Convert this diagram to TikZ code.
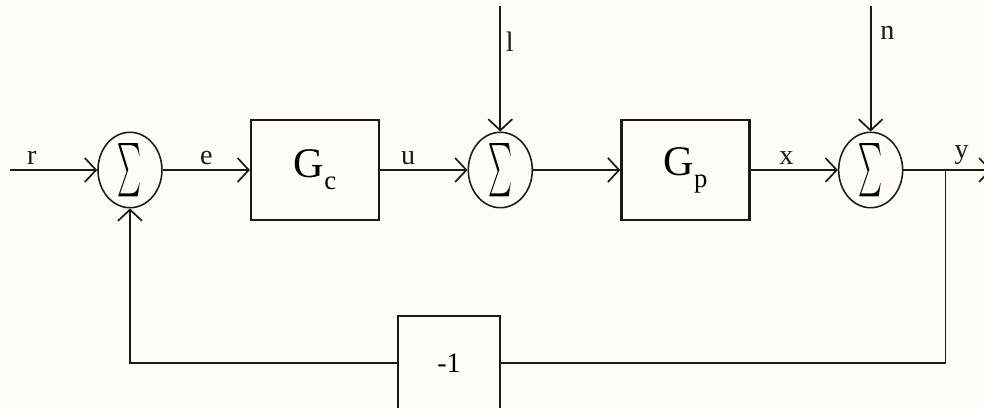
\documentclass[tikz,border=0pt]{standalone}
\usepackage{amsmath}
\usepackage{graphicx}
\usepackage{fontspec}
\setmainfont{Liberation Serif}
\usepackage{tikz}
\usetikzlibrary{shapes.geometric,arrows.meta,positioning}
\definecolor{inkdark}{RGB}{25,25,25}
\definecolor{paper}{RGB}{253,253,246}
\tikzset{
  sumnode/.style={ellipse,draw=inkdark,line width=1.1pt,minimum width=1.6cm,
    minimum height=1.8cm,inner sep=0pt},
  plantbox/.style={rectangle,draw=inkdark,line width=1.7pt,minimum width=3.2cm,
    minimum height=2.5cm,inner sep=0pt},
  gainbox/.style={rectangle,draw=inkdark,line width=1.5pt,minimum width=2.55cm,
    minimum height=2.35cm,inner sep=0pt,font=\fontsize{20}{22}\selectfont},
  sigarrow/.style={-{Straight Barb[length=2.8mm,width=6mm]},line width=1.2pt,color=inkdark},
  sigline/.style={line width=1.2pt,color=inkdark},
  siglabel/.style={font=\fontsize{20}{22}\selectfont,color=inkdark},
}
\newcommand{\sumsym}{\resizebox{0.6cm}{1.0cm}{$\sum$}}
\newcommand{\blocklabel}[2]{{\fontsize{30}{32}\selectfont #1}%
  \raisebox{-8.5pt}{\fontsize{19}{19}\selectfont #2}}

\begin{document}
\begin{tikzpicture}[node distance=2.18cm]

\fill[paper] (0,0) rectangle (24.6,10.175);
\path[use as bounding box] (0,0) rectangle (24.6,10.175);
\clip (0,0) rectangle (24.6,10.175);

%% ── forward path ─────────────────────────────────────────────────────────
\coordinate (rin) at (0.25,5.925);
\node[sumnode, right=of rin] (s1) {\sumsym};
\node[plantbox, right=of s1] (gc) {\blocklabel{G}{c}};
\node[sumnode, right=of gc] (s2) {\sumsym};
\node[plantbox, right=of s2] (gp) {\blocklabel{G}{p}};
\node[sumnode, right=of gp] (s3) {\sumsym};
\coordinate[right=1.05cm of s3] (br);
\coordinate[right=1.15cm of br] (yout);

%% ── disturbance inputs ───────────────────────────────────────────────────
\coordinate[above=3.15cm of s2] (lin);
\coordinate[above=3.15cm of s3] (nin);

%% ── feedback gain ────────────────────────────────────────────────────────
\node[gainbox] (fb) at (11.225,1.1) {\raisebox{-5pt}{-1}};

%% ── Signals ──────────────────────────────────────────────────────────────
\draw[sigarrow] (rin) -- node[siglabel,above,pos=0.25]{r} (s1);
\draw[sigarrow] (s1) -- node[siglabel,above]{e} (gc);
\draw[sigarrow] (gc) -- node[siglabel,above,pos=0.32]{u} (s2);
\draw[sigarrow] (s2) -- (gp);
\draw[sigarrow] (gp) -- node[siglabel,above,pos=0.41]{x} (s3);
\draw[sigline] (s3) -- (br);
\draw[sigarrow] (br) -- node[siglabel,above,pos=0.35]{y} (yout);
\draw[sigarrow] (lin) -- node[siglabel,right,pos=0.29]{l} (s2);
\draw[sigarrow] (nin) -- node[siglabel,right,pos=0.22,xshift=3pt]{n} (s3);
% y ── -1 ──> first summing point
\draw[sigline] (br) |- (fb.east);
\draw[sigarrow] (fb.west) -| (s1.south);

\end{tikzpicture}
\end{document}
